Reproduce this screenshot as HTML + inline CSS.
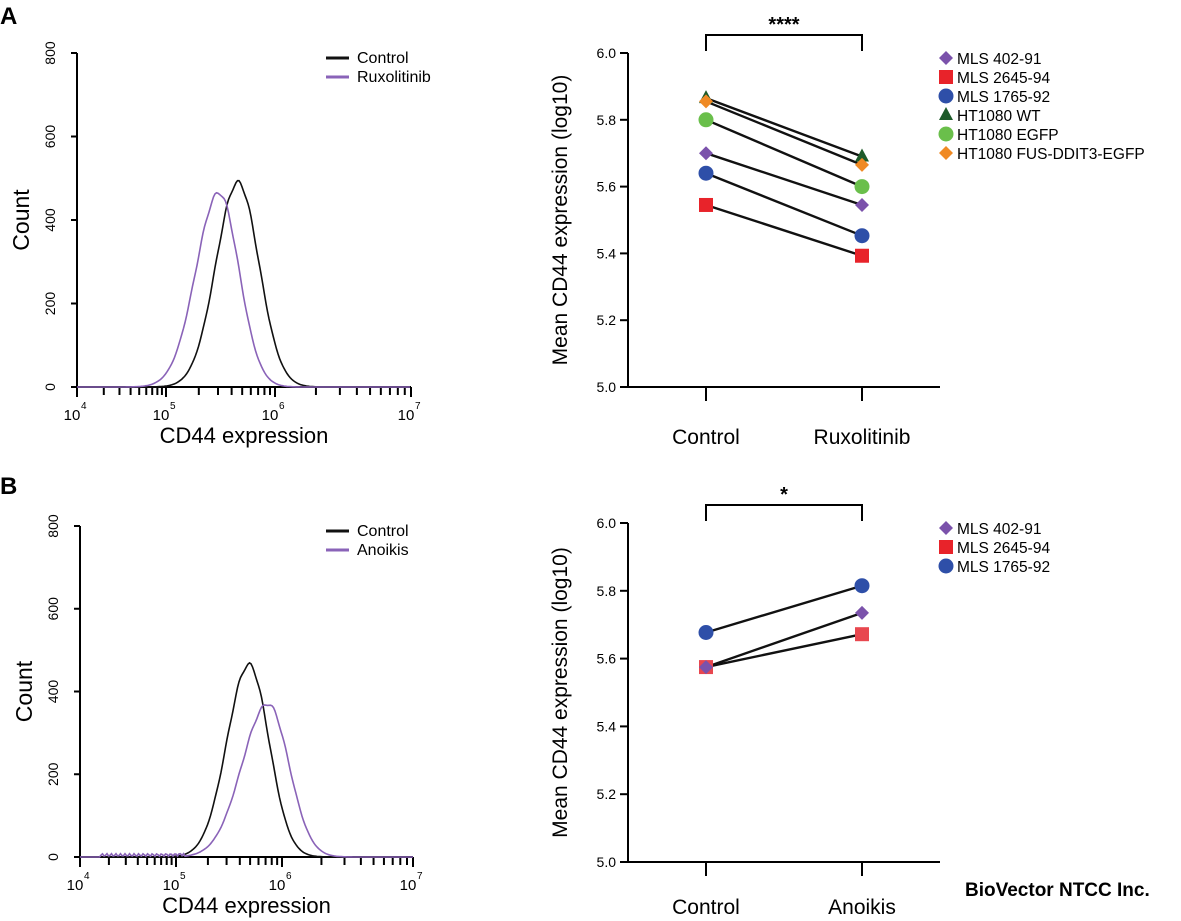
<!DOCTYPE html>
<html><head><meta charset="utf-8"><style>
body{margin:0;background:#fff}
svg{display:block;font-family:"Liberation Sans",Arial,sans-serif}
</style></head><body>
<svg id="s" width="1181" height="921" viewBox="0 0 1181 921" xmlns="http://www.w3.org/2000/svg">
<text x="0" y="24" font-size="24" font-weight="bold">A</text>
<text x="0" y="494" font-size="24" font-weight="bold">B</text>
<text x="965" y="896" font-size="19" font-weight="bold">BioVector NTCC Inc.</text>
<g id="g"></g>
</svg>
<script>
const g=document.getElementById('g');let h='';
function L(x1,y1,x2,y2,c='#000',w=2){h+=`<line x1="${x1}" y1="${y1}" x2="${x2}" y2="${y2}" stroke="${c}" stroke-width="${w}"/>`;}
function T(x,y,s,sz,a='start',extra=''){h+=`<text x="${x}" y="${y}" font-size="${sz}" text-anchor="${a}" ${extra}>${s}</text>`;}
function hist(ax,y0,y800,dec,curves,legend){
  const sc=(y0-y800)/800;
  L(ax,y800,ax,y0);L(ax,y0,dec[3],y0);
  [0,200,400,600,800].forEach(v=>{const y=y0-v*sc;L(ax-6,y,ax,y);T(ax-22,y,v,14,'middle',`transform="rotate(-90 ${ax-22} ${y})"`);});
  for(let d=0;d<3;d++){for(let k=1;k<10;k++){const x=dec[d]+(dec[d+1]-dec[d])*Math.log10(k);L(x,y0,x,y0+(k==1?10:8));}}
  L(dec[3],y0,dec[3],y0+10);
  [4,5,6,7].forEach((e,i)=>{T(dec[i]-5,y0+33,'10',15,'middle');T(dec[i]+4,y0+22,e,10,'start');});
  T((ax+dec[3])/2,y0+56,'CD44 expression',22,'middle');
  T(ax-48,(y0+y800)/2,'Count',23,'middle',`transform="rotate(-90 ${ax-48} ${(y0+y800)/2})"`);
  curves.forEach(c=>{let p='';let s=7;for(let x=ax;x<=dec[3];x+=1.5){let v=c.a*Math.exp(-Math.pow(x-c.m,2)/(2*(x<c.m?c.sl:c.sr)**2));if(c.t&&x>c.t[0]&&x<c.t[1])v+=c.t[2]*(0.6+0.4*Math.sin(x*s));v+=(Math.sin(x*13.1)*0.01)*v;const y=y0-v*sc;p+=(p?'L':'M')+x.toFixed(1)+' '+y.toFixed(1);}h+=`<path d="${p}" fill="none" stroke="${c.c}" stroke-width="1.6"/>`;});
  legend.forEach((l,i)=>{const y=y800+5+i*19;L(326,y,349,y,l[1],3);T(357,y+5,l[0],16);});
}
hist(77,387,53,[77,166,275,411],[
 {m:238,a:490,sl:22,sr:21,c:'#111'},
 {m:219,a:465,sl:23,sr:20,c:'#8a63b8'}],[['Control','#111'],['Ruxolitinib','#8a63b8']]);
hist(80,857,526,[80,176,282,413],[
 {m:249,a:465,sl:22,sr:20,c:'#111'},
 {m:268,a:370,sl:26,sr:21,c:'#8a63b8',t:[100,185,8]}],[['Control','#111'],['Anoikis','#8a63b8']]);
function mk(t,x,y,c){
 if(t=='d')h+=`<polygon points="${x},${y-7} ${x+7},${y} ${x},${y+7} ${x-7},${y}" fill="${c}"/>`;
 else if(t=='s')h+=`<rect x="${x-7}" y="${y-7}" width="14" height="14" fill="${c}"/>`;
 else if(t=='c')h+=`<circle cx="${x}" cy="${y}" r="7.5" fill="${c}"/>`;
 else h+=`<polygon points="${x},${y-8} ${x+7},${y+5} ${x-7},${y+5}" fill="${c}"/>`;}
function dot(ax,y0,y6,x2lab,series,legend,stars,lo){
 const f=v=>y0-(v-5)*(y0-y6);
 L(ax,y6,ax,y0);L(ax,y0,940,y0);
 [5.0,5.2,5.4,5.6,5.8,6.0].forEach(v=>{const y=f(v);L(ax-8,y,ax,y);T(ax-12,y+5,v.toFixed(1),14,'end');});
 L(706,y0,706,y0+14);L(862,y0,862,y0+14);
 T(706,y0+lo,'Control',21,'middle');T(862,y0+lo,x2lab,21,'middle');
 T(567,(y0+y6)/2,'Mean CD44 expression (log10)',21,'middle',`transform="rotate(-90 567 ${(y0+y6)/2})"`);
 const by=y6-18;L(706,by,862,by);L(706,by-1,706,by+16);L(862,by-1,862,by+16);T(784,by-4,stars,20,'middle','font-weight="bold"');
 series.forEach(s=>L(706,f(s[2]),862,f(s[3]),'#111',2.4));
 series.forEach(s=>{mk(s[0],706,f(s[2]),s[1]);mk(s[0],862,f(s[3]),s[1]);});
 legend.forEach((l,i)=>{const y=y6+5+i*19;mk(l[0],946,y,l[1]);T(957,y+6,l[2],15.5);});
}
const LEG=[['d','#7b52ab','MLS 402-91'],['s','#e8232a','MLS 2645-94'],['c','#2e4fa8','MLS 1765-92'],['t','#1e5b2a','HT1080 WT'],['c','#6abf4b','HT1080 EGFP'],['d','#f08a24','HT1080 FUS-DDIT3-EGFP']];
dot(628,387,53,'Ruxolitinib',[
 ['s','#e8232a',5.545,5.393],['c','#2e4fa8',5.64,5.453],['d','#7b52ab',5.70,5.545],['c','#6abf4b',5.80,5.60],['t','#1e5b2a',5.865,5.69],['d','#f08a24',5.855,5.665]],LEG,'****',57);
dot(628,862,523,'Anoikis',[
 ['s','#e8474f',5.575,5.672],['d','#7b52ab',5.575,5.735],['c','#2e4fa8',5.677,5.815]],LEG.slice(0,3),'*',52);
g.innerHTML=h;
</script>
</body></html>
